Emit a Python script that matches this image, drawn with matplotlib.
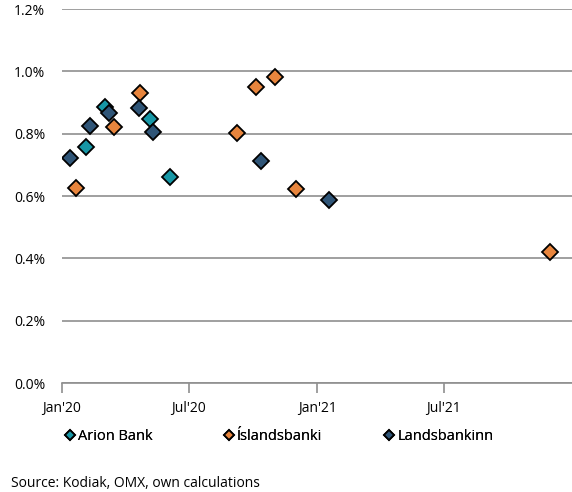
import matplotlib
matplotlib.use("Agg")
import matplotlib.pyplot as plt
import matplotlib.ticker as mticker
import pandas as pd

arion_dates = ["2020-02-04", "2020-03-02", "2020-05-06", "2020-06-04"]
arion_vals = [0.757, 0.887, 0.848, 0.662]

islands_dates = ["2020-01-21", "2020-03-15", "2020-04-22", "2020-09-08",
                 "2020-10-05", "2020-11-02", "2020-12-01", "2021-12-01"]
islands_vals = [0.625, 0.820, 0.930, 0.801, 0.949, 0.981, 0.622, 0.420]

lands_dates = ["2020-01-13", "2020-02-10", "2020-03-09", "2020-04-20",
               "2020-05-11", "2020-10-12", "2021-01-17"]
lands_vals = [0.721, 0.825, 0.866, 0.882, 0.805, 0.711, 0.587]

series = [
    ("Arion Bank", arion_dates, arion_vals, "#1797a6"),
    ("Íslandsbanki", islands_dates, islands_vals, "#e8853d"),
    ("Landsbankinn", lands_dates, lands_vals, "#2f5577"),
]

tick_dates = ["2020-01-01", "2020-07-01", "2021-01-01", "2021-07-01"]
tick_labels = ["Jan'20", "Jul'20", "Jan'21", "Jul'21"]

plt.rcParams['font.family'] = ['Open Sans', 'DejaVu Sans']
plt.rcParams['font.size'] = 10

fig = plt.figure(figsize=(5.72, 4.92), dpi=100)
ax = fig.add_axes([0.1084, 0.2215, 0.8916, 0.7602])

lines = []
for name, d, v, c in series:
    ln, = ax.plot(pd.to_datetime(d), v, linestyle='none', marker='D', markersize=8,
                  markerfacecolor=c, markeredgecolor='black', markeredgewidth=1.3,
                  label=name, zorder=3)
    lines.append(ln)

ax.set_ylim(0, 1.2)
ax.set_yticks([0, 0.2, 0.4, 0.6, 0.8, 1.0, 1.2])
ax.yaxis.set_major_formatter(mticker.FuncFormatter(lambda y, p: f"{y:.1f}%"))
ax.set_xlim(pd.Timestamp("2020-01-01"), pd.Timestamp("2022-01-01"))
ax.set_xticks(pd.to_datetime(tick_dates))
ax.set_xticklabels(tick_labels)

ax.grid(axis='y', color='#8f8f8f', linewidth=1.2)
ax.set_axisbelow(True)
for s in ['top', 'right', 'left']:
    ax.spines[s].set_visible(False)
ax.spines['bottom'].set_color('#8f8f8f')
ax.spines['bottom'].set_linewidth(1.2)
ax.tick_params(axis='y', length=0, pad=12, labelsize=10)
ax.tick_params(axis='x', length=7, width=1.2, color='#8f8f8f', pad=6, labelsize=10)

# one legend per series so the entries sit at fixed spots like the original
legend_x = [0.110, 0.388, 0.668]
for ln, lx in zip(lines, legend_x):
    leg = fig.legend(handles=[ln], loc='center left', bbox_to_anchor=(lx, 0.112),
                     frameon=False, handletextpad=0.05, handlelength=1.0,
                     borderpad=0, borderaxespad=0, fontsize=10.5, markerscale=0.7)
    fig.add_artist(leg)

fig.text(0.02, 0.018, "Source: Kodiak, OMX, own calculations", fontsize=10,
         va='center', ha='left')

fig.savefig("out.png", dpi=100)
